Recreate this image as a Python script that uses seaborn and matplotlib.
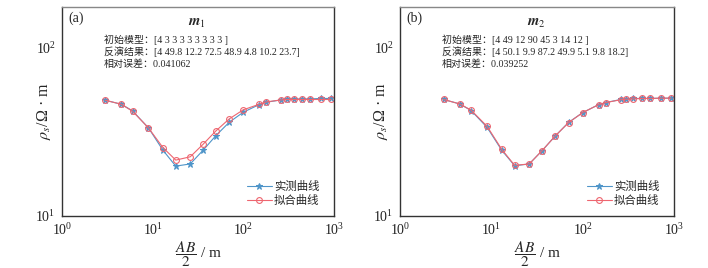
import numpy as np
import pandas as pd
import matplotlib
matplotlib.use("Agg")
import matplotlib.pyplot as plt
import seaborn as sns

sns.set_theme(style="white")
plt.rcParams['font.family'] = ['Liberation Serif', 'Noto Sans CJK SC']
plt.rcParams['mathtext.fontset'] = 'stix'
plt.rcParams['axes.unicode_minus'] = False

# AB/2 电极距 (m)
ab2 = [3, 4.5, 6, 9, 13, 18, 26, 36, 50, 70, 100, 150, 180, 260, 300, 360, 450, 540, 720, 930]

# m1
obs_m1 = [48.8, 46.2, 42.2, 33.4, 24.6, 19.8, 20.4, 24.6, 30.1, 36.1, 41.4, 46.0, 47.5,
          49.0, 49.5, 49.7, 49.7, 49.7, 50.0, 50.0]
fit_m1 = [48.8, 46.2, 42.0, 33.4, 25.5, 21.5, 22.5, 26.7, 32.1, 37.8, 42.8, 46.2, 47.7,
          49.0, 49.3, 49.3, 49.3, 49.3, 49.3, 49.3]

# m2
obs_m2 = [49.3, 46.4, 42.4, 33.6, 24.6, 19.9, 20.4, 24.5, 29.9, 36.0, 41.2, 46.0, 47.3,
          49.3, 49.7, 50.0, 50.0, 50.0, 50.2, 50.2]
fit_m2 = [49.3, 46.4, 42.6, 34.1, 24.9, 20.0, 20.4, 24.5, 29.9, 35.9, 41.2, 46.0, 47.3,
          49.1, 49.5, 49.7, 50.0, 50.0, 50.2, 50.2]

panels = [
    ("(a)", r"$\boldsymbol{m}_1$", obs_m1, fit_m1,
     ["初始模型：[4 3 3 3 3 3 3 3 3 ]",
      "反演结果：[4 49.8 12.2 72.5 48.9 4.8 10.2 23.7]",
      "相对误差：0.041062"]),
    ("(b)", r"$\boldsymbol{m}_2$", obs_m2, fit_m2,
     ["初始模型：[4 49 12 90 45 3 14 12 ]",
      "反演结果：[4 50.1 9.9 87.2 49.9 5.1 9.8 18.2]",
      "相对误差：0.039252"]),
]

blue = "#4f95c9"
red = "#ee6670"

fig = plt.figure(figsize=(7.08, 2.68), dpi=100)
axes = [fig.add_axes([0.0876, 0.194, 0.384, 0.78]),
        fig.add_axes([0.565, 0.194, 0.387, 0.78])]

for ax, (tag, title, obs, fit, lines) in zip(axes, panels):
    df = pd.DataFrame({"ab2": ab2 * 2,
                       "rho": obs + fit,
                       "curve": ["实测曲线"] * len(ab2) + ["拟合曲线"] * len(ab2)})
    sns.lineplot(data=df[df.curve == "实测曲线"], x="ab2", y="rho", ax=ax,
                 color=blue, lw=0.8, marker="*", markersize=4.5, mec=blue, mfc=blue,
                 label="实测曲线")
    sns.lineplot(data=df[df.curve == "拟合曲线"], x="ab2", y="rho", ax=ax,
                 color=red, lw=0.8, marker="o", markersize=4.2, mec=red, mfc="none",
                 mew=0.8, label="拟合曲线")
    ax.set_xscale("log")
    ax.set_yscale("log")
    ax.set_xlim(1, 1000)
    ax.set_ylim(10, 175)
    ax.set_xticks([1, 10, 100, 1000])
    ax.set_yticks([10, 100])
    ax.minorticks_off()
    ax.tick_params(axis="both", which="major", direction="out", length=2.5, width=0.8,
                   labelsize=10, pad=2, colors="#222222")
    for s in ax.spines.values():
        s.set_color("#333333")
        s.set_linewidth(1.0)
    ax.spines["top"].set_color("#888888")
    ax.set_xlabel(r"$\dfrac{AB}{2}$ / m", fontsize=11, labelpad=1)
    ax.set_ylabel(r"$\rho_s$/Ω · m", fontsize=11.5)
    ax.yaxis.set_label_coords(-0.035, 0.5)
    ax.text(0.025, 0.947, tag, transform=ax.transAxes, ha="left", va="center", fontsize=10)
    ax.text(0.496, 0.923, title, transform=ax.transAxes, ha="center", va="center", fontsize=10.5)
    for i, t in enumerate(lines):
        ax.text(0.153, 0.842 - i * 0.057, t, transform=ax.transAxes, ha="left", va="center",
                fontsize=7.2)
    leg = ax.legend(loc="lower right", frameon=False, fontsize=8.2, handlelength=2.2,
                    handletextpad=0.2, labelspacing=0.2, borderaxespad=0.5,
                    bbox_to_anchor=(0.985, 0.0))

fig.savefig("out.png", dpi=100)
